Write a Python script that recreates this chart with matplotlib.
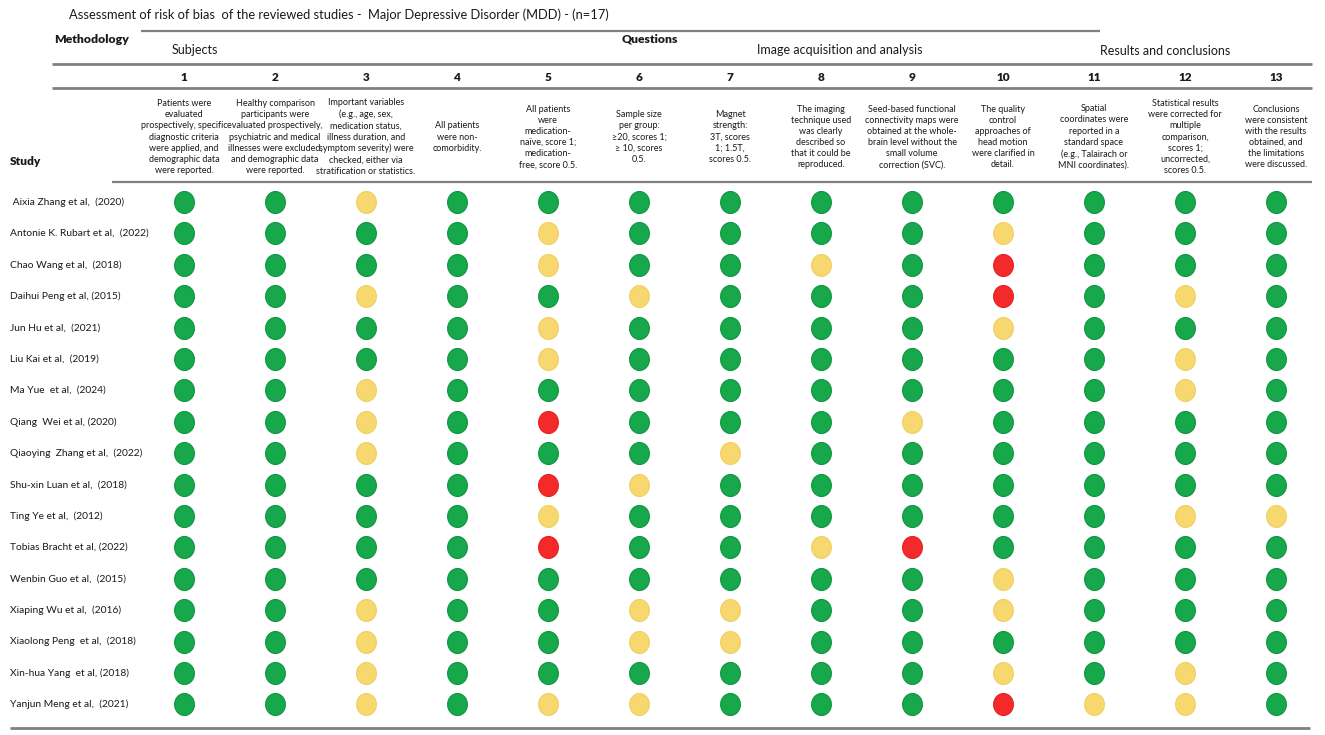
import numpy as np
import matplotlib
matplotlib.use("Agg")
import matplotlib.pyplot as plt
from matplotlib.path import Path

plt.rcParams['font.family'] = ['Lato', 'DejaVu Sans']

# ---------------- data ----------------
title = "Assessment of risk of bias  of the reviewed studies -  Major Depressive Disorder (MDD) - (n=17)"

studies = [
    " Aixia Zhang et al,  (2020)",
    "Antonie K. Rubart et al,  (2022)",
    "Chao Wang et al,  (2018)",
    "Daihui Peng et al, (2015)",
    "Jun Hu et al,  (2021)",
    "Liu Kai et al,  (2019)",
    "Ma Yue  et al,  (2024)",
    "Qiang  Wei et al, (2020)",
    "Qiaoying  Zhang et al,  (2022)",
    "Shu-xin Luan et al,  (2018)",
    "Ting Ye et al,  (2012)",
    "Tobias Bracht et al, (2022)",
    "Wenbin Guo et al,  (2015)",
    "Xiaping Wu et al,  (2016)",
    "Xiaolong Peng  et al,  (2018)",
    "Xin-hua Yang  et al, (2018)",
    "Yanjun Meng et al,  (2021)",
]

question_numbers = [str(i) for i in range(1, 14)]

questions = [
    "Patients were\nevaluated\nprospectively, specific\ndiagnostic criteria\nwere applied, and\ndemographic data\nwere reported.",
    "Healthy comparison\nparticipants were\nevaluated prospectively,\npsychiatric and medical\nillnesses were excluded,\nand demographic data\nwere reported.",
    "Important variables\n(e.g., age, sex,\nmedication status,\nillness duration, and\nsymptom severity) were\nchecked, either via\nstratification or statistics.",
    "All patients\nwere non-\ncomorbidity.",
    "All patients\nwere\nmedication-\nnaïve, score 1;\nmedication-\nfree, score 0.5.",
    "Sample size\nper group:\n≥20, scores 1;\n≥ 10, scores\n0.5.",
    "Magnet\nstrength:\n3T, scores\n1; 1.5T,\nscores 0.5.",
    "The imaging\ntechnique used\nwas clearly\ndescribed so\nthat it could be\nreproduced.",
    "Seed-based functional\nconnectivity maps were\nobtained at the whole-\nbrain level without the\nsmall volume\ncorrection (SVC).",
    "The quality\ncontrol\napproaches of\nhead motion\nwere clarified in\ndetail.",
    "Spatial\ncoordinates were\nreported in a\nstandard space\n(e.g., Talairach or\nMNI coordinates).",
    "Statistical results\nwere corrected for\nmultiple\ncomparison,\nscores 1;\nuncorrected,\nscores 0.5.",
    "Conclusions\nwere consistent\nwith the results\nobtained, and\nthe limitations\nwere discussed.",
]

# G = low risk (green), Y = partial (yellow), R = high risk (red)
ratings = [
    "GGYGGGGGGGGGG",
    "GGGGYGGGGYGGG",
    "GGGGYGGYGRGGG",
    "GGYGGYGGGRGYG",
    "GGGGYGGGGYGGG",
    "GGGGYGGGGGGYG",
    "GGYGGGGGGGGYG",
    "GGYGRGGGYGGGG",
    "GGYGGGYGGGGGG",
    "GGGGRYGGGGGGG",
    "GGGGYGGGGGGYY",
    "GGGGRGGYRGGGG",
    "GGGGGGGGGYGGG",
    "GGYGGYYGGYGGG",
    "GGYGGYYGGGGGG",
    "GGYGGGGGGYGYG",
    "GGYGYYGGGRYYG",
]

groups = ["Subjects", "Image acquisition and analysis", "Results and conclusions"]

colors = {"G": "#16A84A", "Y": "#F6D86E", "R": "#F42A2A"}
edges = {"G": "#0E9640", "Y": "#EFD062", "R": "#E52020"}

# ---------------- layout (pixels) ----------------
W, H = 1325, 735
X0, DX = 184, 91.0     # first column centre, column spacing
Y0, DY = 202, 31.4     # first row centre, row spacing

fig = plt.figure(figsize=(W / 100, H / 100), dpi=100)
ov = fig.add_axes([0, 0, 1, 1])
ov.set_xlim(0, W)
ov.set_ylim(H, 0)
ov.axis('off')

ax = fig.add_axes([0, 0, 1, 1])
ax.patch.set_alpha(0)
ax.set_xlim(1 - X0 / DX, 1 + (W - X0) / DX)
ax.set_ylim((H - Y0) / DY, -Y0 / DY)
ax.axis('off')

def colpx(c):
    return X0 + (c - 1) * DX

txt = "#1a1a1a"
line_c = "#808080"

# title
ov.text(69, 15, title, fontsize=9.3, color=txt, ha='left', va='center')

# horizontal rules
ov.plot([141, 1100], [31, 31], color=line_c, lw=1.6, solid_capstyle='butt')
ov.plot([52, 1312], [64, 64], color=line_c, lw=2.0, solid_capstyle='butt')
ov.plot([52, 1312], [88, 88], color=line_c, lw=2.0, solid_capstyle='butt')
ov.plot([112, 1312], [182, 182], color=line_c, lw=1.6, solid_capstyle='butt')
ov.plot([10, 1310], [728, 728], color=line_c, lw=2.0, solid_capstyle='butt')

# header labels
ov.text(54, 39, "Methodology", fontsize=8.8, fontweight='heavy', color=txt, ha='left', va='center')
ov.text(650, 39, "Questions", fontsize=8.8, fontweight='heavy', color=txt, ha='center', va='center')
ov.text(10, 161, "Study", fontsize=8.6, fontweight='heavy', color=txt, ha='left', va='center')

ov.text(195, 50, groups[0], fontsize=9, color=txt, ha='center', va='center')
ov.text(840, 50, groups[1], fontsize=9, color=txt, ha='center', va='center')
ov.text(1165, 51, groups[2], fontsize=9, color=txt, ha='center', va='center')

for i, (num, q) in enumerate(zip(question_numbers, questions)):
    x = colpx(i + 1)
    ov.text(x, 77, num, fontsize=8.5, fontweight='heavy', color=txt, ha='center', va='center')
    ov.text(x, 137, q, fontsize=6.5, color=txt, ha='center', va='center',
            linespacing=1.3, multialignment='center')

# study labels
ytr = ax.get_yaxis_transform()
for r, name in enumerate(studies):
    ax.text(10 / W, r, name, transform=ytr, fontsize=7.35, color=txt, ha='left', va='center')

# dots (slightly tall ellipse marker)
t = np.linspace(0, 2 * np.pi, 80)
ellipse = Path(np.column_stack([np.cos(t) * 0.9, np.sin(t)]), closed=True)

for code in ["G", "Y", "R"]:
    xs, ys = [], []
    for r, row in enumerate(ratings):
        for c, v in enumerate(row):
            if v == code:
                xs.append(c + 1)
                ys.append(r)
    ax.scatter(xs, ys, marker=ellipse, s=250, c=colors[code],
               edgecolors=edges[code], linewidths=0.8, zorder=3)

fig.savefig("out.png", dpi=100, facecolor="white")
